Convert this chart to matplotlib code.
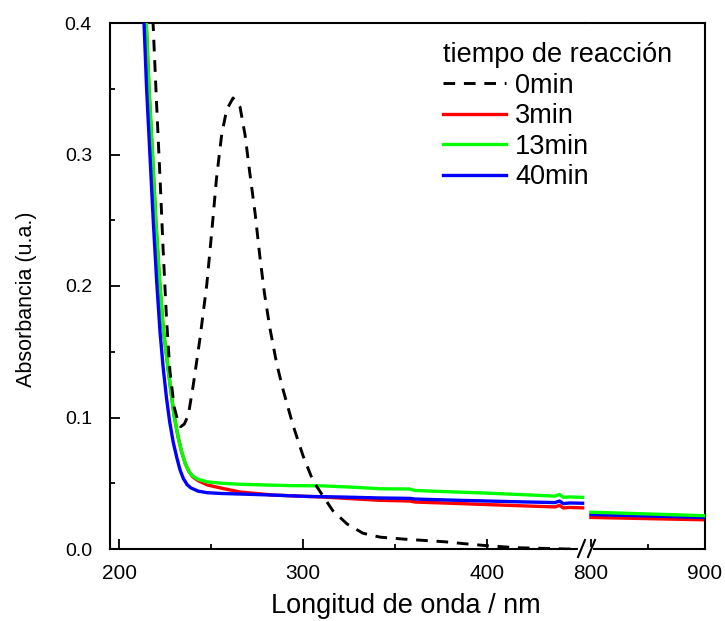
import matplotlib
matplotlib.use("Agg")
import matplotlib.pyplot as plt
from matplotlib.lines import Line2D
from matplotlib.ticker import FixedLocator, MultipleLocator

plt.rcParams['font.family'] = ['Liberation Sans', 'DejaVu Sans']

# ---------------- data ----------------
series_labels = ["0min", "3min", "13min", "40min"]
legend_title = "tiempo de reacción"
x_label = "Longitud de onda / nm"
y_label = "Absorbancia (u.a.)"

# 0 min (dashed black) - left segment only (≈0 in the right segment)
wl_0 = [216.0, 218.5, 220.5, 222.3, 224.0, 225.9, 227.7, 230.0, 232.0, 233.5, 235.5,
        237.7, 240.4, 244.0, 247.7, 250.4, 253.0, 255.8, 258.5, 262.0, 265.8, 268.5,
        271.0, 274.0, 276.6, 279.0, 282.0, 285.7, 289.0, 294.6, 300.0, 305.4, 311.0,
        316.3, 324.0, 332.6, 342.0, 355.0, 377.0, 388.0, 400.0, 416.0, 430.0, 443.0, 452.0]
abs_0 = [0.46, 0.400, 0.336, 0.282, 0.227, 0.173, 0.135, 0.108, 0.097, 0.093, 0.095,
         0.102, 0.125, 0.160, 0.201, 0.241, 0.282, 0.315, 0.334, 0.343, 0.336, 0.315,
         0.287, 0.255, 0.222, 0.195, 0.168, 0.141, 0.122, 0.094, 0.071, 0.052, 0.040,
         0.029, 0.019, 0.012, 0.009, 0.0075, 0.0055, 0.004, 0.0025, 0.001, 0.0005, 0.0, 0.0]

# 3 min (red)
wl_3 = [213.3, 214.8, 216.3, 218.2, 220.0, 222.0, 224.0, 226.0, 228.0, 230.0, 232.0,
        234.0, 236.0, 238.0, 240.0, 243.0, 248.0, 256.5, 266.0, 284.0, 311.0, 342.0,
        358.0, 361.0, 380.0, 400.0, 420.0, 437.0, 439.5, 441.5, 445.0, 452.0]
abs_3 = [0.45, 0.40, 0.35, 0.30, 0.25, 0.205, 0.168, 0.145, 0.122, 0.101, 0.086,
         0.074, 0.065, 0.059, 0.0550, 0.0520, 0.0487, 0.0460, 0.0433, 0.0410, 0.0395, 0.0370,
         0.0365, 0.0357, 0.0348, 0.0338, 0.0328, 0.0320, 0.0332, 0.0312, 0.0316, 0.0313]
wl_3_r = [800.0, 900.0]
abs_3_r = [0.0240, 0.0222]

# 13 min (green)
wl_13 = [213.2, 214.8, 216.3, 218.2, 220.0, 222.0, 224.0, 226.0, 228.0, 230.0, 232.0,
         234.0, 236.0, 238.0, 240.0, 243.0, 248.0, 256.0, 266.0, 293.0, 311.0, 330.0,
         342.0, 358.0, 361.0, 380.0, 400.0, 420.0, 437.0, 439.5, 441.5, 445.0, 452.0]
abs_13 = [0.45, 0.40, 0.35, 0.30, 0.25, 0.205, 0.168, 0.145, 0.122, 0.101, 0.086,
          0.074, 0.065, 0.059, 0.0555, 0.0530, 0.0510, 0.0500, 0.0492, 0.0482, 0.0480, 0.0468,
          0.0458, 0.0456, 0.0445, 0.0435, 0.0425, 0.0413, 0.0402, 0.0415, 0.0393, 0.0396, 0.0393]
wl_13_r = [800.0, 900.0]
abs_13_r = [0.0280, 0.0253]

# 40 min (blue)
wl_40 = [212.5, 213.6, 215.0, 216.8, 218.6, 220.5, 222.3, 224.0, 225.8, 227.5, 229.5,
         231.5, 233.2, 235.0, 237.0, 239.0, 243.0, 248.0, 256.0, 266.0, 284.0, 302.0,
         322.0, 342.0, 358.0, 361.0, 380.0, 400.0, 420.0, 437.0, 439.5, 441.5, 445.0, 452.0]
abs_40 = [0.45, 0.40, 0.35, 0.30, 0.25, 0.203, 0.165, 0.138, 0.115, 0.097, 0.081,
          0.069, 0.060, 0.0535, 0.0490, 0.0465, 0.0440, 0.0428, 0.0422, 0.0418, 0.0410, 0.0400,
          0.0395, 0.0388, 0.0385, 0.0380, 0.0372, 0.0365, 0.0358, 0.0353, 0.0365, 0.0345, 0.0350, 0.0348]
wl_40_r = [800.0, 900.0]
abs_40_r = [0.0262, 0.0240]

y_ticks = [0.0, 0.1, 0.2, 0.3, 0.4]
y_tick_labels = ["0.0", "0.1", "0.2", "0.3", "0.4"]
x_ticks_left = [200, 300, 400]
x_ticks_right = [800, 900]

# ---------------- figure ----------------
W, H = 725, 621
fig = plt.figure(figsize=(W / 100, H / 100), dpi=100)

def fx(px):
    return px / W

def fy(py):
    return 1 - py / H

ax_top, ax_bot = 23, 549
x0, xb, x1 = 110, 585, 705
axL = fig.add_axes([fx(x0), fy(ax_bot), fx(xb - x0), (ax_bot - ax_top) / H])
axR = fig.add_axes([fx(xb), fy(ax_bot), fx(x1 - xb), (ax_bot - ax_top) / H])

lw = 2.4
l0, = axL.plot(wl_0, abs_0, color='black', lw=2.1, dashes=(4.0, 3.0), zorder=5)
l3, = axL.plot(wl_3, abs_3, color='#ff0000', lw=lw, zorder=2)
l13, = axL.plot(wl_13, abs_13, color='#00ff00', lw=lw, zorder=3)
l40, = axL.plot(wl_40, abs_40, color='#0000ff', lw=lw, zorder=4)
axR.plot(wl_3_r, abs_3_r, color='#ff0000', lw=lw, zorder=2)
axR.plot(wl_13_r, abs_13_r, color='#00ff00', lw=lw, zorder=4)
axR.plot(wl_40_r, abs_40_r, color='#0000ff', lw=lw, zorder=3)

axL.set_xlim(195.1, 453.3)
axR.set_xlim(794.8, 900)
for a in (axL, axR):
    a.set_ylim(0, 0.4)
    for s in a.spines.values():
        s.set_linewidth(1.5)
axL.spines['right'].set_visible(False)
axR.spines['left'].set_visible(False)

axL.yaxis.set_major_locator(FixedLocator(y_ticks))
axL.set_yticklabels(y_tick_labels)
axL.yaxis.set_minor_locator(MultipleLocator(0.05))
axL.xaxis.set_major_locator(FixedLocator(x_ticks_left))
axL.xaxis.set_minor_locator(FixedLocator([250, 350]))
axR.xaxis.set_major_locator(FixedLocator(x_ticks_right))
axR.xaxis.set_minor_locator(FixedLocator([850]))
axR.set_yticks([])

axL.tick_params(axis='both', which='major', direction='in', length=7.2, width=1.3,
                top=False, right=False)
axL.tick_params(axis='both', which='minor', direction='in', length=3.6, width=1.3,
                top=False, right=False)
axL.tick_params(axis='y', labelsize=14, pad=13)
axL.tick_params(axis='x', labelsize=15, pad=11)
axR.tick_params(axis='x', which='major', direction='in', length=7.2, width=1.3,
                labelsize=15, pad=11, top=False)
axR.tick_params(axis='x', which='minor', direction='in', length=3.6, width=1.3, top=False)
axR.tick_params(axis='y', left=False, right=False, labelleft=False)

fig.text(fx(406), fy(613), x_label, fontsize=19.5, ha='center', va='baseline')
fig.text(fx(27), fy(299), y_label, fontsize=15.5, rotation=90, ha='center', va='center')

leg = fig.legend([l0, l3, l13, l40], series_labels, title=legend_title,
                 loc='upper left', bbox_to_anchor=(fx(443), fy(42)),
                 bbox_transform=fig.transFigure, frameon=False, fontsize=19.5,
                 title_fontsize=19.5, handlelength=2.33, handletextpad=0.33,
                 labelspacing=0.17, borderpad=0, borderaxespad=0, alignment='left')
leg.set_zorder(20)

# axis break marks on bottom spine
fig.add_artist(Line2D([fx(580), fx(591)], [fy(ax_bot), fy(ax_bot)], color='white',
                      lw=3, transform=fig.transFigure, zorder=10))
fig.add_artist(Line2D([fx(578), fx(585)], [fy(557), fy(540)], color='black',
                      lw=1.5, transform=fig.transFigure, zorder=11))
fig.add_artist(Line2D([fx(588), fx(595)], [fy(557), fy(540)], color='black',
                      lw=1.5, transform=fig.transFigure, zorder=11))

fig.savefig("out.png", dpi=100)
